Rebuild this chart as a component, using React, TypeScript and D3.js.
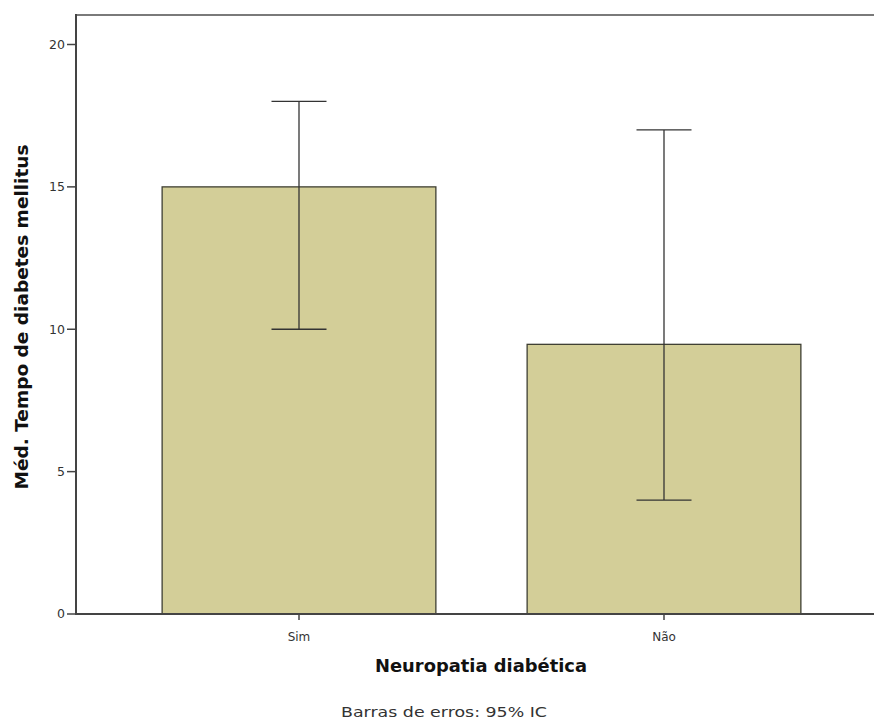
import React from "react";
import * as d3 from "d3";

const categories = ["Sim", "Não"];
const means = [15, 9.47];
const ciLow = [10, 4];
const ciHigh = [18, 17];
const yTicks = [0, 5, 10, 15, 20];

const W = 874, H = 720;
const left = 76, right = 874, top = 15, bottom = 614;

export default function App() {
  const y = d3.scaleLinear().domain([0, 20]).range([bottom, 44.5]);
  const x = d3.scaleBand<string>().domain(categories).range([116.5, 846.5]).paddingInner(0.25).paddingOuter(0.125);
  const bw = x.bandwidth();
  const font = "'DejaVu Sans', Verdana, sans-serif";
  return (
    <svg width={W} height={H} style={{ position: "absolute", left: 0, top: 0, background: "#fff" }}>
      <line x1={left} x2={right} y1={top} y2={top} stroke="#7a7a7a" strokeWidth={2} />
      {categories.map((c, i) => (
        <rect key={c} x={x(c)} y={y(means[i])} width={bw} height={bottom - y(means[i])}
          fill="#d3ce98" stroke="#3f3f33" strokeWidth={1.3} />
      ))}
      {categories.map((c, i) => {
        const cx = (x(c) as number) + bw / 2;
        return (
          <g key={c} stroke="#333" strokeWidth={1.3}>
            <line x1={cx} x2={cx} y1={y(ciHigh[i])} y2={y(ciLow[i])} />
            <line x1={cx - 27.5} x2={cx + 27.5} y1={y(ciHigh[i])} y2={y(ciHigh[i])} />
            <line x1={cx - 27.5} x2={cx + 27.5} y1={y(ciLow[i])} y2={y(ciLow[i])} />
          </g>
        );
      })}
      <line x1={left} x2={left} y1={top - 1} y2={bottom + 1} stroke="#444" strokeWidth={2} />
      <line x1={left} x2={right} y1={bottom} y2={bottom} stroke="#444" strokeWidth={2} />
      {yTicks.map(t => (
        <g key={t}>
          <line x1={left - 9} x2={left} y1={y(t)} y2={y(t)} stroke="#444" strokeWidth={1.5} />
          <text x={left - 11} y={y(t)} dy="0.35em" textAnchor="end" fontFamily={font} fontSize={12.5} fill="#333">{t}</text>
        </g>
      ))}
      {categories.map(c => {
        const cx = (x(c) as number) + bw / 2;
        return (
          <g key={c}>
            <line x1={cx} x2={cx} y1={bottom} y2={bottom + 6} stroke="#444" strokeWidth={1.5} />
            <text x={cx} y={641} textAnchor="middle" fontFamily={font} fontSize={12} fill="#333">{c}</text>
          </g>
        );
      })}
      <text x={481} y={672} textAnchor="middle" fontFamily={font} fontSize={17} fontWeight="bold" fill="#111"
        textLength={212} lengthAdjust="spacingAndGlyphs">Neuropatia diabética</text>
      <text x={444} y={717} textAnchor="middle" fontFamily={font} fontSize={14} fill="#333"
        textLength={206} lengthAdjust="spacingAndGlyphs">Barras de erros: 95% IC</text>
      <text transform={`translate(28,317) rotate(-90)`} textAnchor="middle" fontFamily={font} fontSize={17}
        fontWeight="bold" fill="#111" textLength={345} lengthAdjust="spacingAndGlyphs">Méd. Tempo de diabetes mellitus</text>
    </svg>
  );
}
